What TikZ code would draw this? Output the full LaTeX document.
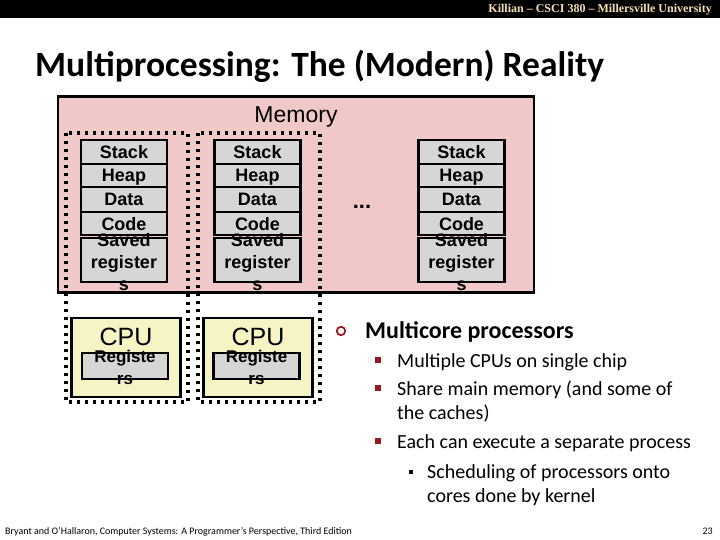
\documentclass[tikz,border=0pt]{standalone}
\usepackage{fontspec}
\setmainfont{Liberation Sans}
\newfontfamily\arialf{Liberation Sans}
\newfontfamily\calf{Carlito}
\newfontfamily\serf{Liberation Serif}
\definecolor{memfill}{RGB}{240,200,200}
\definecolor{grayfill}{RGB}{214,214,214}
\definecolor{cpufill}{RGB}{246,243,196}
\definecolor{hdrtext}{RGB}{245,222,179}
\definecolor{bulred}{RGB}{150,25,30}
\tikzset{
  rowbox/.style={draw=black, line width=2.7pt, fill=grayfill, minimum width=86pt, inner sep=0pt,
    font=\arialf\bfseries\fontsize{18}{20}\selectfont, text height=13pt, text depth=0pt},
  cpubox/.style={draw=black, line width=2.7pt, fill=cpufill, minimum width=109pt, minimum height=79pt, inner sep=0pt},
  regbox/.style={draw=black, line width=2.7pt, fill=grayfill, minimum width=86pt, minimum height=26pt, inner sep=0pt},
  dotbox/.style={draw=black, line width=3.2pt, dash pattern=on 3.2pt off 4.8pt},
  ovtext/.style={font=\arialf\bfseries\fontsize{18}{22}\selectfont, align=center, inner sep=0pt},
  cputext/.style={font=\arialf\fontsize{25}{28}\selectfont, inner sep=0pt},
  bodytext/.style={font=\calf\fontsize{20}{24}\selectfont, anchor=base west, inner sep=0pt},
  sqbul/.style={fill=bulred, minimum size=6pt, inner sep=0pt},
  sqbulsmall/.style={fill=black, minimum size=4pt, inner sep=0pt},
}
\begin{document}
\begin{tikzpicture}[x=1pt,y=-1pt]
\useasboundingbox (0,0) rectangle (720,540);
\fill[white] (0,0) rectangle (720,540);
% header bar
\fill[black] (0,0) rectangle (720,18);
\node[anchor=base east, inner sep=0pt, text=hdrtext, font=\serf\bfseries\fontsize{12}{14}\selectfont] (hdr) at (712,13) {Killian – CSCI 380 – Millersville University};
% title
\node[anchor=base west, inner sep=0pt, font=\calf\bfseries\fontsize{35.5}{40}\selectfont] (title) at (35,77) {Multiprocessing: The (Modern) Reality};
% memory
\node[draw=black, line width=2.7pt, fill=memfill, minimum width=476pt, minimum height=196pt, inner sep=0pt] (mem) at (296,194.5) {};
\node[anchor=base, inner sep=0pt, font=\arialf\fontsize{23}{26}\selectfont] (memlbl) at (296,123) {Memory};
% dotted process boxes
\draw[dotbox] (66,133) rectangle (188,402);
\draw[dotbox] (198,133) rectangle (320,402);
% stacks
\foreach \n/\cx in {a/124, b/257.5, c/461.5} {
  \node[rowbox, minimum height=24pt] (stack\n) at (\cx,152) {Stack};
  \node[rowbox, minimum height=23pt] (heap\n) at (\cx,175.5) {Heap};
  \node[rowbox, minimum height=25pt] (data\n) at (\cx,199.5) {Data};
  \node[rowbox, minimum height=23pt] (code\n) at (\cx,223.5) {Code};
  \node[rowbox, minimum height=44pt] (saved\n) at (\cx,260) {};
  \node[ovtext] (savedtxt\n) at (\cx,262) {Saved\\register\\s};
}
% ellipsis
\node[inner sep=0pt, font=\arialf\bfseries\fontsize{22}{24}\selectfont] (dots) at (362,207) {...};
% CPUs
\foreach \n/\cx/\rx in {a/126/125, b/258/256.5} {
  \node[cpubox] (cpu\n) at (\cx,357.5) {};
  \node[cputext] (cputxt\n) at (\cx,337) {CPU};
  \node[regbox] (reg\n) at (\rx,366) {};
  \node[ovtext, font=\arialf\bfseries\fontsize{17}{22}\selectfont] (regtxt\n) at (\rx,367) {Registe\\rs};
}
% bullets
\draw[bulred, line width=1.8pt] (341,331) circle (4.2pt);
\node[bodytext, font=\calf\bfseries\fontsize{24}{28}\selectfont] (b1) at (365,338) {Multicore processors};
\node[sqbul] (q1) at (378,360) {};
\node[bodytext] (t1) at (397,367) {Multiple CPUs on single chip};
\node[sqbul] (q2) at (378,388) {};
\node[bodytext] (t2) at (397,395) {Share main memory (and some of};
\node[bodytext] (t2b) at (397,419) {the caches)};
\node[sqbul] (q3) at (378,441) {};
\node[bodytext] (t3) at (397,448) {Each can execute a separate process};
\node[sqbulsmall] (q4) at (411,472) {};
\node[bodytext] (t4) at (427,478) {Scheduling of processors onto};
\node[bodytext] (t4b) at (427,502) {cores done by kernel};
% footer
\node[anchor=base west, inner sep=0pt, font=\calf\fontsize{10}{12}\selectfont] (foot) at (5,534) {Bryant and O’Hallaron, Computer Systems: A Programmer’s Perspective, Third Edition};
\node[anchor=base east, inner sep=0pt, font=\calf\fontsize{10}{12}\selectfont] (pnum) at (713,534) {23};
\end{tikzpicture}
\end{document}
